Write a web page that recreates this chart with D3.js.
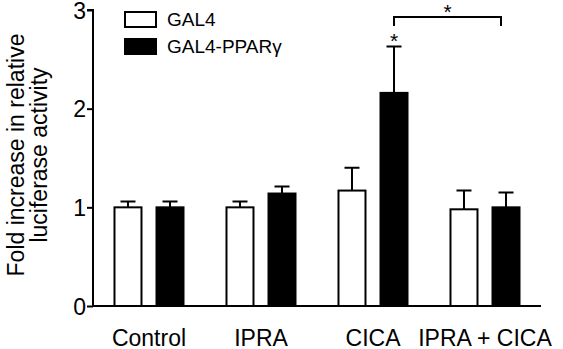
<!DOCTYPE html>
<html>
<head>
<meta charset="utf-8">
<script src="https://cdn.jsdelivr.net/npm/d3@7"></script>
<style>
  body { margin: 0; background: #fff; }
  svg text { font-family: Arial, "Liberation Sans", sans-serif; fill: #000; }
</style>
</head>
<body>
<svg id="chart" width="563" height="349"></svg>
<script>
const groups = ['Control', 'IPRA', 'CICA', 'IPRA + CICA'];
const series = ['GAL4', 'GAL4-PPARγ'];
const gal4 = [1.0, 1.0, 1.17, 0.98];
const gal4Err = [0.06, 0.06, 0.23, 0.19];
const ppar = [1.0, 1.14, 2.16, 1.0];
const pparErr = [0.06, 0.07, 0.47, 0.15];
const yTicks = [0, 1, 2, 3];

const svg = d3.select('#chart');
const plotLeft = 93, plotRight = 541, plotTop = 10, plotBottom = 306;

const y = d3.scaleLinear().domain([0, 3]).range([plotBottom, plotTop]);
const x = d3.scaleBand().domain(groups).range([plotLeft, plotRight]).paddingInner(0.366).paddingOuter(0.183);
const xs = d3.scaleBand().domain(series).range([0, x.bandwidth()]).paddingInner(0.31);

const data = [];
groups.forEach((g, i) => {
    data.push({ g: g, s: series[0], v: gal4[i], e: gal4Err[i] });
    data.push({ g: g, s: series[1], v: ppar[i], e: pparErr[i] });
});
const cx = d => x(d.g) + xs(d.s) + xs.bandwidth() / 2;

// error bars (only upward)
svg.append('g').selectAll('path')
    .data(data)
    .enter()
    .append('path')
    .attr('d', d => `M${cx(d)},${y(d.v)}V${y(d.v + d.e)}M${cx(d) - 7.5},${y(d.v + d.e)}H${cx(d) + 7.5}`)
    .style('stroke', '#000')
    .style('stroke-width', 2)
    .style('fill', 'none');

svg.append('g').selectAll('rect')
    .data(data)
    .enter()
    .append('rect')
    .attr('x', d => x(d.g) + xs(d.s) + 1)
    .attr('y', d => y(d.v))
    .attr('width', xs.bandwidth() - 2)
    .attr('height', d => y(0) - y(d.v))
    .style('fill', d => d.s === series[0] ? '#fff' : '#000')
    .style('stroke', '#000')
    .style('stroke-width', 2);

// axes
const yAxis = svg.append('g')
    .attr('transform', `translate(${plotLeft},0)`)
    .call(d3.axisLeft(y).tickValues(yTicks).tickFormat(d3.format('d')).tickSize(6).tickPadding(1));
yAxis.select('.domain').attr('d', `M-6,${y(3)}H0V${y(0)}`).style('stroke-width', 2);
yAxis.selectAll('.tick line').style('stroke-width', 2);
yAxis.selectAll('.tick text').style('font-size', '23px').attr('dy', '0.36em');

svg.append('line')
    .attr('x1', plotLeft).attr('x2', plotRight)
    .attr('y1', y(0)).attr('y2', y(0))
    .style('stroke', '#000').style('stroke-width', 2);

svg.append('g').selectAll('text')
    .data(groups)
    .enter()
    .append('text')
    .attr('x', d => x(d) + x.bandwidth() / 2)
    .attr('y', 346)
    .attr('text-anchor', 'middle')
    .style('font-size', '23px')
    .text(d => d);

// y axis title
const title = svg.append('text')
    .attr('transform', `translate(0,${(plotTop + plotBottom) / 2 - 3}) rotate(-90)`)
    .attr('text-anchor', 'middle')
    .style('font-size', '23px');
title.append('tspan').attr('x', 0).attr('y', 24).text('Fold increase in relative');
title.append('tspan').attr('x', 0).attr('y', 47).text('luciferase activity');

// legend
const legend = svg.append('g').selectAll('g')
    .data(series)
    .enter()
    .append('g')
    .attr('transform', (d, i) => `translate(125,${12 + i * 27})`);
legend.append('rect')
    .attr('width', 31).attr('height', 15)
    .style('fill', (d, i) => i ? '#000' : '#fff')
    .style('stroke', '#000').style('stroke-width', 2);
legend.append('text')
    .attr('x', 42).attr('y', 14)
    .style('font-size', '19px')
    .text(d => d);

// significance marks
const cica = data[5], both = data[7];
const yb = 17;
svg.append('path')
    .attr('d', `M${cx(cica)},26V${yb}H${cx(both) - 5}V26`)
    .style('stroke', '#000').style('stroke-width', 2).style('fill', 'none');
svg.append('text')
    .attr('x', (cx(cica) + cx(both) - 5) / 2).attr('y', 19)
    .attr('text-anchor', 'middle').style('font-size', '21px').text('*');
svg.append('text')
    .attr('x', cx(cica)).attr('y', 48)
    .attr('text-anchor', 'middle').style('font-size', '21px').text('*');
</script>
</body>
</html>
